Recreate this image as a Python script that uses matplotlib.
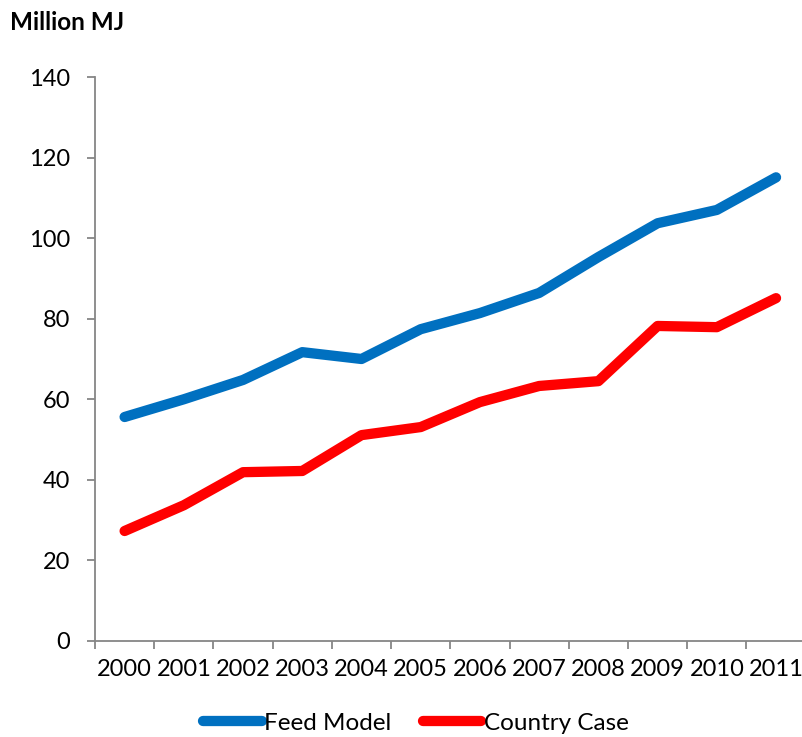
import matplotlib.pyplot as plt
import numpy as np

years = ["2000", "2001", "2002", "2003", "2004", "2005",
         "2006", "2007", "2008", "2009", "2010", "2011"]
feed_model = [55.6, 60.0, 64.8, 71.7, 70.0, 77.4, 81.4, 86.4, 95.3, 103.7, 107.0, 115.1]
country_case = [27.3, 33.7, 41.9, 42.2, 51.1, 53.1, 59.3, 63.3, 64.5, 78.2, 77.9, 85.1]

plt.rcParams['font.family'] = ['Lato', 'DejaVu Sans']

fig = plt.figure(figsize=(8.03, 7.37), dpi=100)
ax = fig.add_axes([0.1183, 0.1303, 0.885, 0.7652])

x = np.arange(len(years))
ax.plot(x, feed_model, color="#0070C0", lw=7.4, solid_capstyle="round",
        solid_joinstyle="round", label="Feed Model")
ax.plot(x, country_case, color="#FF0000", lw=7.4, solid_capstyle="round",
        solid_joinstyle="round", label="Country Case")

ax.set_xlim(-0.5, len(years) - 0.5)
ax.set_ylim(0, 140)
ax.set_yticks(range(0, 141, 20))
ax.set_xticks(x)
ax.set_xticklabels(years)
# category boundaries get the tick marks, labels sit between them
ax.set_xticks(np.arange(-0.5, len(years), 1), minor=True)
ax.tick_params(axis="x", which="major", length=0, pad=13, labelsize=17)
ax.tick_params(axis="x", which="minor", length=6, width=1.3, color="#868686")
ax.tick_params(axis="y", length=6, width=1.3, color="#868686", labelsize=17, pad=12)

for side in ("top", "right"):
    ax.spines[side].set_visible(False)
for side in ("left", "bottom"):
    ax.spines[side].set_color("#868686")
    ax.spines[side].set_linewidth(1.3)

fig.text(0.012, 0.970, "Million MJ", fontsize=17.5, fontweight="bold", va="center")

fig.legend(loc="center", bbox_to_anchor=(0.518, 0.019), ncol=2, frameon=False,
           fontsize=17.5, handlelength=2.4, handletextpad=0.1, columnspacing=1.3)

fig.savefig("out.png", dpi=100)
